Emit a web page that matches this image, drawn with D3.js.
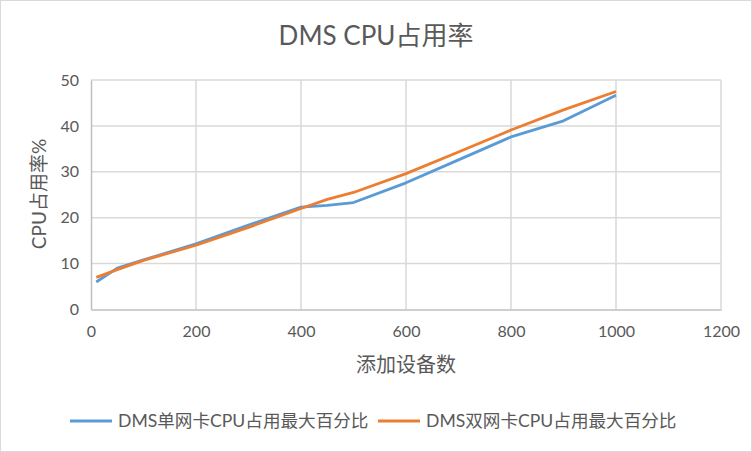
<!DOCTYPE html>
<html><head><meta charset="utf-8">
<script src="https://cdn.jsdelivr.net/npm/d3@7"></script>
<style>
html,body{margin:0;padding:0;background:#fff;}
text{font-family:Lato,"Noto Sans CJK SC",sans-serif;fill:#595959;}
</style></head>
<body>
<svg id="c" width="752" height="452"></svg>
<script>
const title = "DMS CPU占用率";
const xTitle = "添加设备数";
const yTitle = "CPU占用率%";
const devices = [10, 50, 100, 200, 300, 400, 450, 500, 600, 700, 800, 900, 1000];
const singleNic = [6.0, 9.0, 10.8, 14.3, 18.4, 22.3, 22.7, 23.3, 27.6, 32.6, 37.6, 41.1, 46.7];
const dualNic = [7.0, 8.7, 10.7, 14.0, 17.9, 22.0, 24.0, 25.5, 29.6, 34.3, 39.1, 43.5, 47.5];
const seriesNames = ["DMS单网卡CPU占用最大百分比", "DMS双网卡CPU占用最大百分比"];
const xTicks = [0, 200, 400, 600, 800, 1000, 1200];
const yTicks = [0, 10, 20, 30, 40, 50];
const colors = ["#5b9bd5", "#ed7d31"];

const svg = d3.select("#c");
svg.append("rect").attr("x",0.5).attr("y",0.5).attr("width",751).attr("height",451)
  .attr("fill","#fff").attr("stroke","#d9d9d9");

const x = d3.scaleLinear().domain([0,1200]).range([91,721]);
const y = d3.scaleLinear().domain([0,50]).range([309.5,80]);

// gridlines
svg.append("g").selectAll("line").data(yTicks.filter(d=>d>0)).join("line")
  .attr("x1",x(0)).attr("x2",x(1200)).attr("y1",d=>y(d)).attr("y2",d=>y(d))
  .attr("stroke","#d9d9d9").attr("stroke-width",1.5);
svg.append("g").selectAll("line").data(xTicks.filter(d=>d>0)).join("line")
  .attr("x1",d=>x(d)).attr("x2",d=>x(d)).attr("y1",y(0)).attr("y2",y(50))
  .attr("stroke","#d9d9d9").attr("stroke-width",1.5);

// axes
const xAxis = svg.append("g").attr("transform",`translate(0,${y(0)})`)
  .call(d3.axisBottom(x).tickValues(xTicks).tickFormat(d3.format("d")).tickSize(0).tickPadding(16));
const yAxis = svg.append("g").attr("transform",`translate(${x(0)},0)`)
  .call(d3.axisLeft(y).tickValues(yTicks).tickFormat(d3.format("d")).tickSize(0).tickPadding(12));
[xAxis,yAxis].forEach(a=>{
  a.select(".domain").attr("stroke","#bfbfbf").attr("stroke-width",1.5);
  a.selectAll("text").style("font-size","16px").attr("fill","#595959");
});

// lines
const line = d3.line().x((d,i)=>x(devices[i])).y(d=>y(d));
[singleNic, dualNic].forEach((s,k)=>{
  svg.append("path").datum(s).attr("d",line).attr("fill","none")
    .attr("stroke",colors[k]).attr("stroke-width",2.8).attr("stroke-linejoin","round");
});

// titles
svg.append("text").attr("x",376).attr("y",45).attr("text-anchor","middle")
  .style("font-size","26px").text(title);
svg.append("text").attr("x",406).attr("y",372).attr("text-anchor","middle")
  .style("font-size","20px").text(xTitle);
svg.append("text").attr("transform","translate(46,194) rotate(-90)").attr("text-anchor","middle")
  .style("font-size","19px").text(yTitle);

// legend
const legX = [70, 378];
seriesNames.forEach((n,k)=>{
  svg.append("line").attr("x1",legX[k]).attr("x2",legX[k]+42).attr("y1",421).attr("y2",421)
    .attr("stroke",colors[k]).attr("stroke-width",2.8);
  svg.append("text").attr("x",legX[k]+48).attr("y",427).style("font-size","17.6px").text(n);
});
</script>
</body></html>
